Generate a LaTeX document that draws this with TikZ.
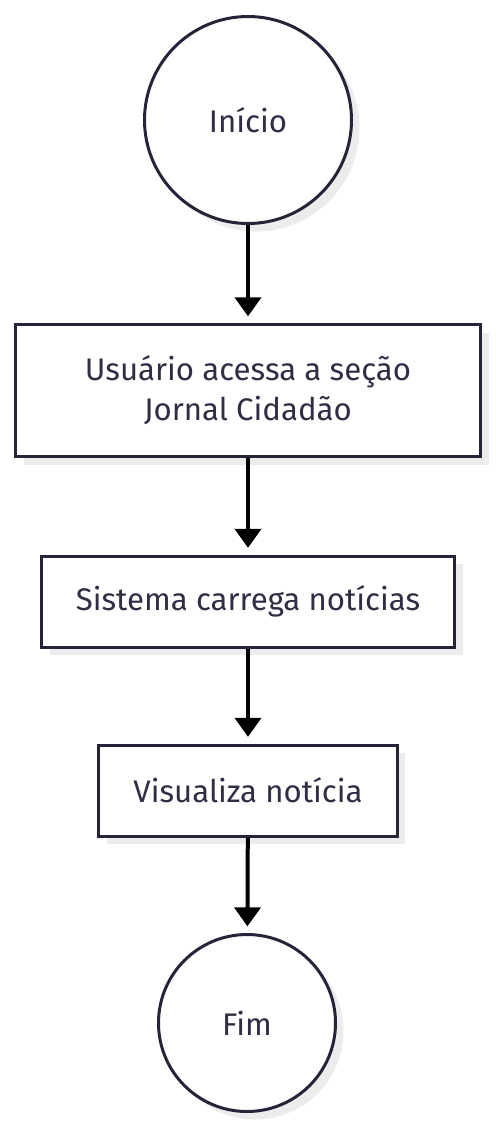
\documentclass[tikz,border=0pt]{standalone}
\usepackage{fontspec}
\setmainfont{Fira Sans}
\usetikzlibrary{arrows.meta,shadows}
\definecolor{edgec}{HTML}{25253A}
\definecolor{textc}{HTML}{2E2E45}
\definecolor{shadc}{HTML}{ECECEC}
\tikzset{
  base/.style={draw=edgec, line width=2.25pt, fill=white, text=textc, font=\fontsize{23.4pt}{30pt}\selectfont, align=center,
    drop shadow={shadow xshift=6pt, shadow yshift=-6pt, fill=shadc, opacity=1}},
  terminal/.style={base, circle, inner sep=0pt},
  procbox/.style={base, rectangle, inner sep=0pt},
  flow/.style={line width=3pt, black, -{Triangle[width=19.5pt,length=14.25pt]}, shorten >=5pt}
}
\begin{document}
\begin{tikzpicture}[x=0.75pt,y=-0.75pt]
\useasboundingbox[fill=white] (0,0) rectangle (496,1129);
\node[terminal, minimum size=155.25pt] (start) at (248,120) {Início};
\node[procbox, minimum width=348.75pt, minimum height=99pt] (access) at (248,390.5) {Usuário acessa a seção\\Jornal Cidadão};
\node[procbox, minimum width=309.75pt, minimum height=68.25pt] (load) at (248,601.5) {Sistema carrega notícias};
\node[procbox, minimum width=223.9pt, minimum height=68.25pt] (view) at (248,790.5) {Visualiza notícia};
\node[terminal, minimum size=132.75pt] (end) at (247,1023) {Fim};
\draw[flow] (start) -- (access);
\draw[flow] (access) -- (load);
\draw[flow] (load) -- (view);
\draw[flow] (view) -- (end);
\end{tikzpicture}
\end{document}
